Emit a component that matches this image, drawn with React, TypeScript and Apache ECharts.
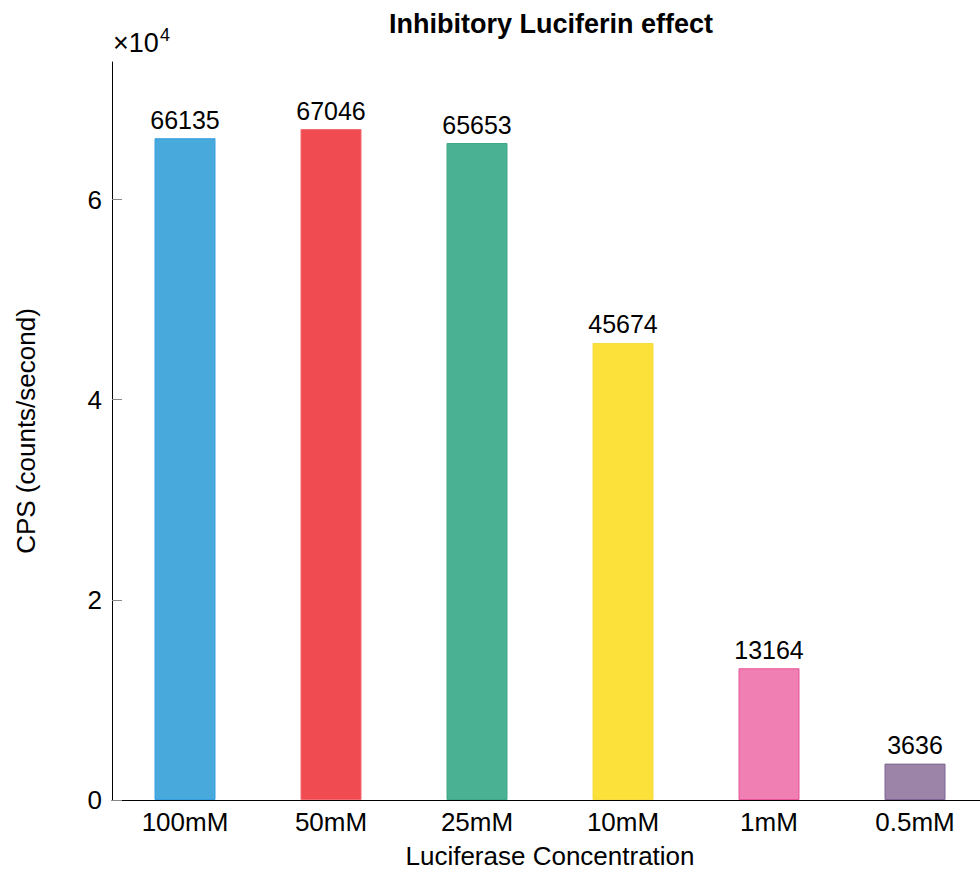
import React, { useEffect, useRef } from "react";
import * as echarts from "echarts";

const categories = ["100mM", "50mM", "25mM", "10mM", "1mM", "0.5mM"];
const values = [66135, 67046, 65653, 45674, 13164, 3636];
const fillColors = ["#47a9dc", "#f04b50", "#4ab292", "#fde13b", "#f07fb3", "#9b84a7"];
const borderColors = ["#3a9fe0", "#f26a70", "#3fa886", "#f5dc40", "#e9559b", "#7e6494"];
const yTicks = [0, 20000, 40000, 60000];
const yMax = 73750.6;

const FONT = "'Liberation Sans', Arial, Helvetica, sans-serif";

export default function App() {
  const ref = useRef<HTMLDivElement>(null);
  useEffect(() => {
    if (!ref.current) return;
    const chart = echarts.init(ref.current, undefined, { renderer: "svg" });
    chart.setOption({
      animation: false,
      backgroundColor: "#ffffff",
      textStyle: { fontFamily: FONT },
      grid: { left: 112, right: 0, top: 62, bottom: 69.5, containLabel: false },
      graphic: [
        {
          type: "text",
          x: 551,
          y: 24,
          style: {
            text: "Inhibitory Luciferin effect",
            fill: "#000",
            font: `bold 27px ${FONT}`,
            textAlign: "center",
            textVerticalAlign: "middle",
          },
        },
        {
          type: "text",
          x: 113,
          y: 43,
          style: {
            text: "×10",
            fill: "#000",
            font: `27px ${FONT}`,
            textAlign: "left",
            textVerticalAlign: "middle",
          },
        },
        {
          type: "text",
          x: 160,
          y: 35,
          style: {
            text: "4",
            fill: "#000",
            font: `18px ${FONT}`,
            textAlign: "left",
            textVerticalAlign: "middle",
          },
        },
      ],
      xAxis: {
        type: "category",
        data: categories,
        axisLine: { show: true, lineStyle: { color: "#000", width: 1 } },
        axisTick: { show: false },
        axisLabel: { fontSize: 26, color: "#000", margin: 9, fontFamily: FONT },
        name: "Luciferase Concentration",
        nameLocation: "middle",
        nameGap: 43,
        nameTextStyle: { fontSize: 26, color: "#000", fontFamily: FONT },
        splitLine: { show: false },
      },
      yAxis: {
        type: "value",
        min: 0,
        max: yMax,
        interval: 20000,
        axisLine: { show: true, lineStyle: { color: "#000", width: 1 } },
        axisTick: {
          show: true,
          inside: true,
          length: 10,
          lineStyle: { color: "#888" },
          customValues: yTicks,
        },
        axisLabel: {
          fontSize: 26,
          color: "#000",
          margin: 10,
          fontFamily: FONT,
          customValues: yTicks,
          formatter: (v: number) => String(Math.round(v / 10000)),
        },
        splitLine: { show: false },
        name: "CPS (counts/second)",
        nameLocation: "middle",
        nameGap: 73,
        nameTextStyle: { fontSize: 26, color: "#000", fontFamily: FONT },
      },
      series: [
        {
          type: "bar",
          barWidth: 61,
          data: values.map((v, i) => ({
            value: v,
            itemStyle: { color: fillColors[i], borderColor: borderColors[i], borderWidth: 1 },
          })),
          label: {
            show: true,
            position: "top",
            distance: 6,
            fontSize: 25,
            color: "#000",
            fontFamily: FONT,
          },
        },
      ],
    });
    return () => chart.dispose();
  }, []);
  return (
    <div style={{ position: "absolute", left: 0, top: 0, width: 980, height: 874, overflow: "hidden" }}>
      <div ref={ref} style={{ width: 988, height: 874 }} />
    </div>
  );
}
